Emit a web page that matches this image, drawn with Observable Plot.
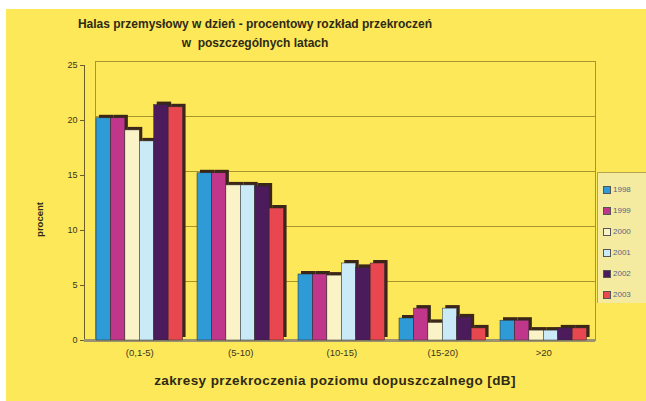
<!DOCTYPE html>
<html><head><meta charset="utf-8">
<script src="https://cdn.jsdelivr.net/npm/d3@7"></script>
<script src="https://cdn.jsdelivr.net/npm/@observablehq/plot@0.6"></script>
<style>
body{margin:0;background:#fff;font-family:"Liberation Sans",Arial,sans-serif;}
#wrap{position:absolute;left:6px;top:9px;width:640px;height:392px;background:#fde85a;overflow:hidden}
.t{position:absolute;font-weight:bold;color:#2e2a14;white-space:nowrap}
#chart{position:absolute;left:0;top:43px}
#legend{position:absolute;left:591px;top:163px;width:49px;height:131px;background:#f4eba0;border-left:1px solid #b5a550;border-top:1px solid #b5a550;box-sizing:border-box;padding-top:6px}
.li{height:21px;line-height:12px;font-size:8px;color:#5a6480;display:flex;align-items:center;height:21px;padding-left:5px}
.sw{width:6px;height:6px;border:1px solid #555;margin-right:2px}
</style></head><body>
<div id="wrap">
  <div class="t" style="left:0;top:8px;width:498px;text-align:center;font-size:12px">Halas przemysłowy w dzień - procentowy rozkład przekroczeń</div>
  <div class="t" style="left:0;top:27px;width:498px;text-align:center;font-size:12px">w&nbsp; poszczególnych latach</div>
  <div id="chart"></div>
  <div class="t" style="left:29px;top:364px;width:600px;text-align:center;font-size:13.5px;letter-spacing:0.4px">zakresy przekroczenia poziomu dopuszczalnego [dB]</div>
  <div class="t" style="left:3px;top:205px;width:60px;text-align:center;font-size:9.5px;transform:rotate(-90deg)">procent</div>
  <div id="legend"></div>
</div>
<script>
const categories = ["(0,1-5)", "(5-10)", "(10-15)", "(15-20)", ">20"];
const years = ["1998", "1999", "2000", "2001", "2002", "2003"];
const colors = ["#2e9bd6", "#c0368a", "#fbf3c8", "#c9eaf6", "#4b1b5c", "#e8474f"];
const v1998 = [20.2, 15.2, 6.0, 2.0, 1.8];
const v1999 = [20.2, 15.2, 6.0, 2.9, 1.8];
const v2000 = [19.1, 14.1, 5.9, 1.6, 0.9];
const v2001 = [18.1, 14.1, 7.0, 2.9, 0.9];
const v2002 = [21.4, 14.0, 6.6, 2.1, 1.1];
const v2003 = [21.2, 12.0, 7.0, 1.1, 1.1];
const yTicks = [0, 5, 10, 15, 20, 25];

const series = [v1998, v1999, v2000, v2001, v2002, v2003];
const data = [];
categories.forEach((c, j) => years.forEach((y, i) => data.push({key: c + "|" + y, cat: c, year: y, value: series[i][j]})));
const domain = [];
categories.forEach(c => { years.forEach(y => domain.push(c + "|" + y)); domain.push(c + "|gap"); });

const W = 640, ML = 78, MR = 45, PO = 0.416;
const step = (W - ML - MR) / (domain.length + 2 * PO);

const chart = Plot.plot({
  width: W, height: 340, marginTop: 13, marginBottom: 52, marginLeft: ML, marginRight: MR,
  style: {background: "transparent", fontFamily: "Liberation Sans, Arial, sans-serif", fontSize: "9px", color: "#3a3520"},
  x: {type: "band", domain, paddingInner: 0, paddingOuter: PO, align: 1, round: false, axis: null},
  y: {domain: [0, 25], axis: null},
  color: {domain: years, range: colors},
  marks: [
    Plot.frame({stroke: "#a8952e", insetLeft: 11, insetTop: -4, insetRight: 6}),
    Plot.ruleY([5, 10, 15, 20], {stroke: "#a8952e", insetLeft: 11, insetRight: 6, dy: -4}),
    Plot.frame({anchor: "left", stroke: "#6a5f2a"}),
    Plot.axisY({ticks: yTicks, tickSize: 4, tickPadding: 3, tickFormat: d => d, label: null, stroke: "#6a5f2a", fill: "#3a3520"}),
    Plot.ruleY([0], {stroke: "#9c9470", strokeWidth: 3, insetRight: 6}),
    Plot.barY(data, {x: "key", y: "value", fill: "#3b2618", dx: 3, dy: -3}),
    Plot.barY(data, {x: "key", y: "value", fill: "year", stroke: "#2b2b2b", strokeWidth: 0.5}),
    Plot.text(categories, {x: d => d + "|2000", text: d => d, frameAnchor: "bottom", dx: step / 2, dy: 15, fontSize: 9.5, fill: "#3a3520"})
  ]
});
document.getElementById("chart").appendChild(chart);

const lg = document.getElementById("legend");
years.forEach((y, i) => {
  const d = document.createElement("div");
  d.className = "li";
  d.innerHTML = `<span class="sw" style="background:${colors[i]}"></span>${y}`;
  lg.appendChild(d);
});
</script>
</body></html>
